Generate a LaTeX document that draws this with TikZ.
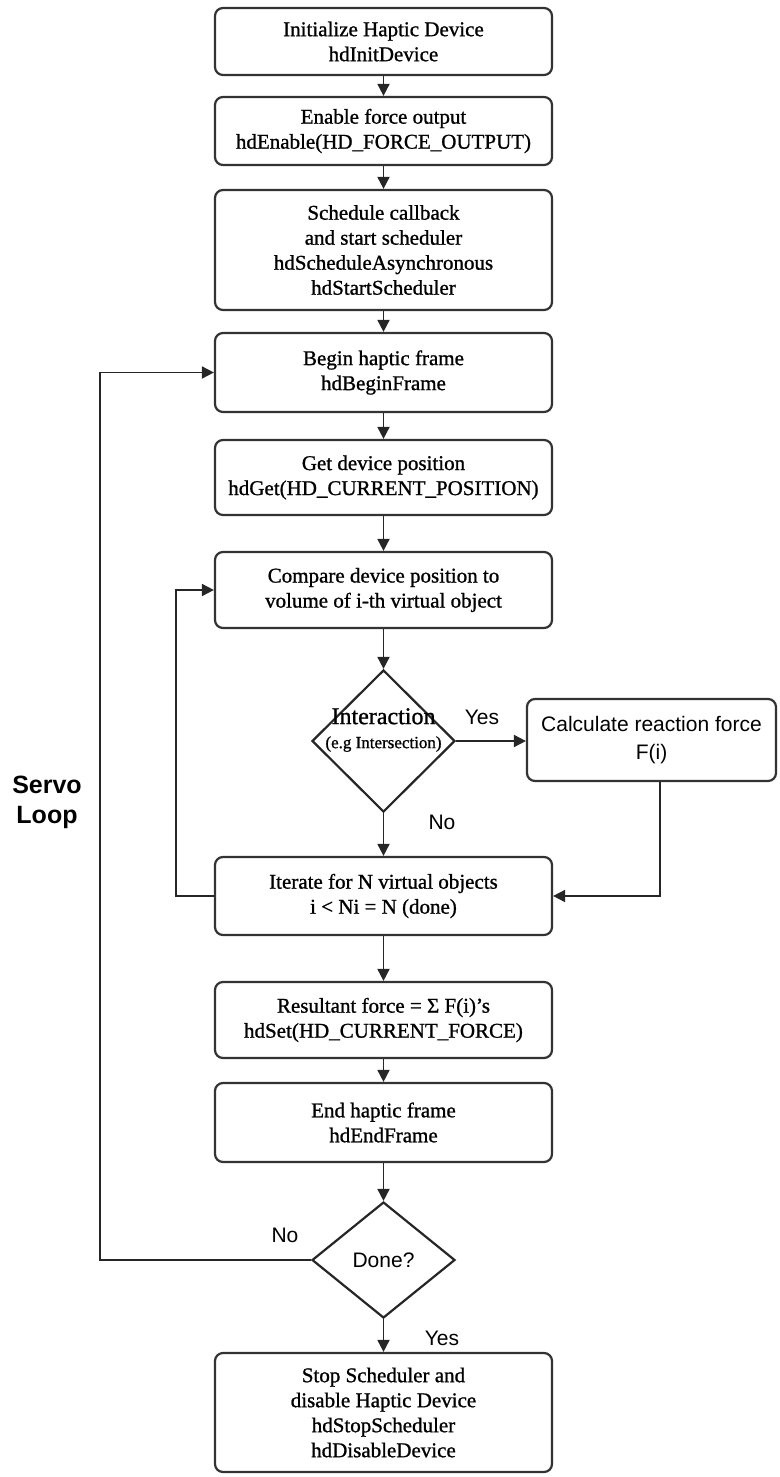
\documentclass[tikz,border=0pt]{standalone}
\usepackage{fontspec}
\setmainfont[FakeBold=1]{Liberation Serif}
\setsansfont{Liberation Sans}
\usetikzlibrary{shapes.geometric,arrows.meta}

\begin{document}
\begin{tikzpicture}[x=0.5pt, y=-0.5pt,
        stepbox/.style={draw=black!80, line width=1.1pt, rounded corners=4pt, minimum width=168.5pt, align=center, inner sep=1pt, font=\fontsize{10.5}{12.5}\selectfont},
        decision/.style={draw=black!85, line width=1.1pt, diamond, inner sep=0pt},
        flow/.style={-{Triangle[length=6pt,width=6pt]}, line width=0.9pt, black!85},
        lbl/.style={font=\sffamily\fontsize{10.5}{12}\selectfont}]

        \useasboundingbox (0,0) rectangle (780,1477);

        % main column
        \node[stepbox, minimum height=33.5pt] (init) at (383.5,41.5) {Initialize Haptic Device\\hdInitDevice};
        \node[stepbox, minimum height=34pt] (enable) at (383.5,131) {Enable force output\\hdEnable(HD\_FORCE\_OUTPUT)};
        \node[stepbox, minimum height=60pt] (sched) at (383.5,250) {Schedule callback\\and start scheduler\\hdScheduleAsynchronous\\hdStartScheduler};
        \node[stepbox, minimum height=39.5pt] (begin) at (383.5,372.5) {Begin haptic frame\\hdBeginFrame};
        \node[stepbox, minimum height=37.5pt] (getpos) at (383.5,477.5) {Get device position\\hdGet(HD\_CURRENT\_POSITION)};
        \node[stepbox, minimum height=38pt] (comp) at (383.5,590) {Compare device position to\\volume of i-th virtual object};
        \node[decision, minimum width=71.5pt, minimum height=71pt] (inter) at (383.5,741) {};
        \node[align=center, inner sep=0pt] (intertext) at (383.5,730) {{\fontsize{12}{10}\selectfont Interaction}\\{\fontsize{8.5}{10}\selectfont (e.g Intersection)}};
        \node[stepbox, minimum width=124.5pt, minimum height=41pt, font=\sffamily\fontsize{10.5}{14}\selectfont] (calc) at (651.5,740) {Calculate reaction force\\F(i)};
        \node[stepbox, minimum height=39pt] (iter) at (383.5,896) {Iterate for N virtual objects\\i < Ni = N (done)};
        \node[stepbox, minimum height=38pt] (result) at (383.5,1020) {Resultant force = Σ F(i)’s\\hdSet(HD\_CURRENT\_FORCE)};
        \node[stepbox, minimum height=39.5pt] (endf) at (383.5,1122.5) {End haptic frame\\hdEndFrame};
        \node[decision, minimum width=71.5pt, minimum height=58pt, lbl] (done) at (383.5,1260) {Done?};
        \node[stepbox, minimum height=59.5pt] (stop) at (383.5,1412.5) {Stop Scheduler and\\disable Haptic Device\\hdStopScheduler\\hdDisableDevice};

        \node[align=center, font=\sffamily\bfseries\fontsize{12.5}{15}\selectfont] (servo) at (47,802) {Servo\\Loop};

        % straight arrows
        \draw[flow] (init) -- (enable);
        \draw[flow] (enable) -- (sched);
        \draw[flow] (sched) -- (begin);
        \draw[flow] (begin) -- (getpos);
        \draw[flow] (getpos) -- (comp);
        \draw[flow] (comp) -- (inter);
        \draw[flow] (inter.east) -- (inter.east -| calc.west);
        \draw[flow] (inter) -- (iter);
        \draw[flow] (iter) -- (result);
        \draw[flow] (result) -- (endf);
        \draw[flow] (endf) -- (done);
        \draw[flow] (done) -- (stop);

        % loops
        \coordinate (innerx) at (176,0);
        \coordinate (outerx) at (100,0);
        \draw[flow] ([xshift=4.25pt]calc.south) |- (iter.east);
        \draw[flow] (iter.west) -- (iter.west -| innerx) |- (comp.west);
        \draw[flow] (done.west) -- (done.west -| outerx) |- (begin.west);

        % branch labels
        \node[lbl] (yes1) at (482,717) {Yes};
        \node[lbl] (no1) at (442,822) {No};
        \node[lbl] (no2) at (285,1235) {No};
        \node[lbl] (yes2) at (442,1338) {Yes};
    \end{tikzpicture}
\end{document}
